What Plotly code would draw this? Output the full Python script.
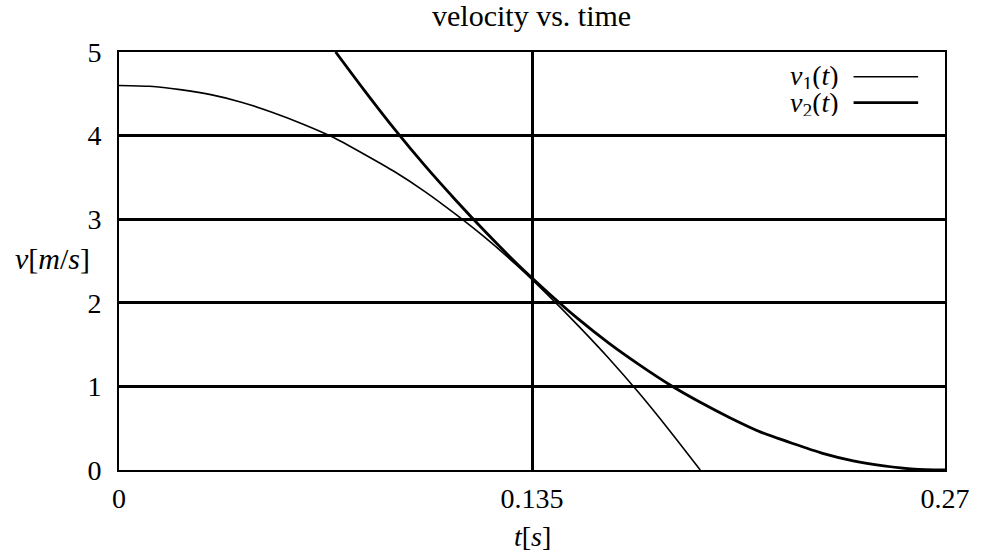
import plotly.graph_objects as go

# ---- data ----
t1 = [0.00, 0.01, 0.02, 0.03, 0.04, 0.05, 0.06, 0.07, 0.08, 0.09, 0.10,
      0.11, 0.12, 0.13, 0.14, 0.15, 0.16, 0.17, 0.18, 0.19]
v1 = [4.60, 4.59, 4.55, 4.49, 4.40, 4.28, 4.14, 3.98, 3.78, 3.57, 3.33,
      3.06, 2.77, 2.45, 2.10, 1.73, 1.34, 0.92, 0.47, 0.00]

t2 = [0.0708, 0.08, 0.09, 0.10, 0.11, 0.12, 0.13, 0.14, 0.15, 0.16, 0.17,
      0.18, 0.19, 0.20, 0.21, 0.22, 0.23, 0.24, 0.25, 0.26, 0.27]
v2 = [5.00, 4.55, 4.08, 3.64, 3.23, 2.84, 2.47, 2.13, 1.81, 1.52, 1.26,
      1.02, 0.81, 0.62, 0.45, 0.32, 0.20, 0.11, 0.05, 0.01, 0.00]

x_ticks = [0, 0.135, 0.27]
x_tick_labels = ["0", "0.135", "0.27"]
y_ticks = [0, 1, 2, 3, 4, 5]
y_tick_labels = ["0", "1", "2", "3", "4", "5"]

series_names = ["<i>v</i><sub>1</sub>(<i>t</i>)", "<i>v</i><sub>2</sub>(<i>t</i>)"]
title_text = "velocity vs. time"
x_title = "<i>t</i>[<i>s</i>]"
y_title = "<i>v</i>[<i>m</i>/<i>s</i>]"

FONT = "Liberation Serif"
FS = 28

fig = go.Figure()
fig.add_trace(go.Scatter(x=t1, y=v1, mode="lines", name=series_names[0],
                         line=dict(color="black", width=1.6, shape="spline", smoothing=0.6),
                         showlegend=False))
fig.add_trace(go.Scatter(x=t2, y=v2, mode="lines", name=series_names[1],
                         line=dict(color="black", width=2.8, shape="spline", smoothing=0.6),
                         showlegend=False))

# custom legend (text to the left of the sample line, as in the reference)
leg_text_y = [0.939, 0.8756]
leg_line_y = [0.9409, 0.8787]
leg_w = [1.6, 2.8]
for name, ty, ly, w in zip(series_names, leg_text_y, leg_line_y, leg_w):
    fig.add_annotation(x=0.8736, y=ty, xref="paper", yref="paper", text=name,
                       showarrow=False, xanchor="right", yanchor="middle",
                       height=24, valign="middle",
                       font=dict(family=FONT, size=FS, color="black"))
    fig.add_shape(type="line", xref="paper", yref="paper", x0=0.8893, x1=0.9675,
                  y0=ly, y1=ly, line=dict(color="black", width=w))

# title and axis titles as annotations
fig.add_annotation(x=0.4994, y=1.1316, xref="paper", yref="paper", text=title_text,
                   showarrow=False, xanchor="center", yanchor="top",
                   font=dict(family=FONT, size=30, color="black"))
fig.add_annotation(x=-0.0806, y=0.5048, xref="paper", yref="paper", text=y_title,
                   showarrow=False, xanchor="center", yanchor="middle",
                   font=dict(family=FONT, size=30, color="black"))
fig.add_annotation(x=0.5006, y=-0.160, xref="paper", yref="paper", text=x_title,
                   showarrow=False, xanchor="center", yanchor="middle",
                   font=dict(family=FONT, size=FS, color="black"))

fig.update_layout(
    width=982, height=557,
    margin=dict(l=119, r=32, t=52, b=87),
    paper_bgcolor="white", plot_bgcolor="white",
    font=dict(family=FONT, size=FS, color="black"),
    showlegend=False,
)
fig.update_xaxes(range=[0, 0.27], tickmode="array", tickvals=x_ticks, ticktext=x_tick_labels,
                 showgrid=True, gridcolor="black", gridwidth=2.5,
                 showline=True, linecolor="black", linewidth=2, mirror=True,
                 zeroline=False, ticks="", ticklabelstandoff=2,
                 tickfont=dict(family=FONT, size=FS, color="black"))
fig.update_yaxes(range=[0, 5], tickmode="array", tickvals=y_ticks, ticktext=y_tick_labels,
                 showgrid=True, gridcolor="black", gridwidth=2.5,
                 showline=True, linecolor="black", linewidth=2, mirror=True,
                 zeroline=False, ticks="", ticklabelstandoff=10,
                 tickfont=dict(family=FONT, size=FS, color="black"))

fig.write_html("out.html", config={"displayModeBar": False},
               post_script="document.body.style.margin='0';document.body.style.overflow='hidden';")
